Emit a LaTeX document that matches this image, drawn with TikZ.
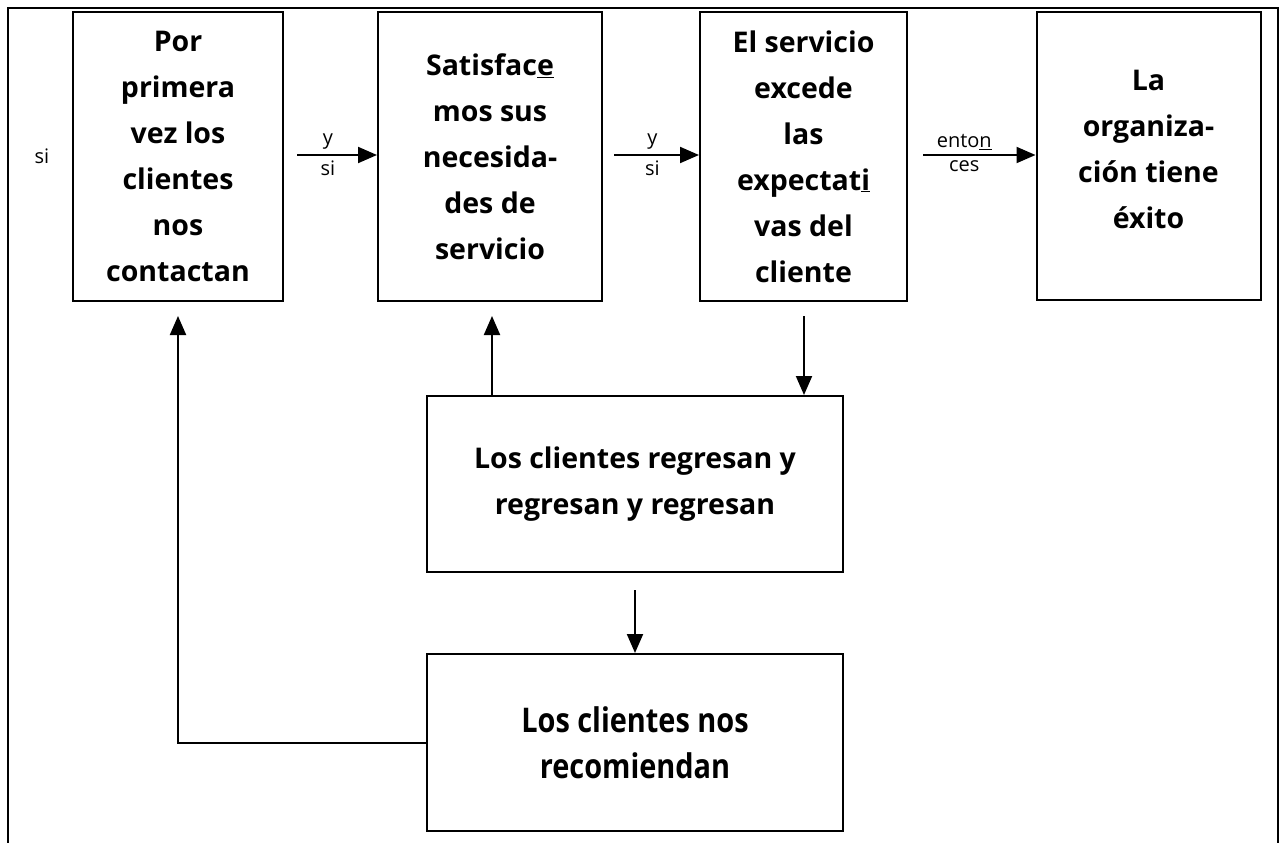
\documentclass[tikz,border=0pt]{standalone}
\usepackage{fontspec}
\setmainfont{Open Sans}
\newfontfamily\narrowfont[FakeStretch=0.85]{Open Sans}
\usetikzlibrary{arrows.meta}
\tikzset{
  box/.style={draw, line width=2pt, rectangle, align=center, inner sep=0pt,
    font=\fontsize{28.5}{46}\selectfont\bfseries},
  arr/.style={line width=2pt, -{Triangle[length=19pt,width=16pt]}},
  lbl/.style={font=\fontsize{20}{22}\selectfont, inner sep=4.5pt},
}
\begin{document}
\begin{tikzpicture}[x=1pt,y=-1pt]
\useasboundingbox (0,0) rectangle (1282,843);
% outer frame (open at bottom)
\draw[line width=2pt] (8,843) -- (8,8) -- (1278,8) -- (1278,843);

\node[box, minimum width=210pt, minimum height=289pt] (b1) at (178,156.5)
  {Por\\primera\\vez los\\clientes\\nos\\contactan};
\node[box, minimum width=224pt, minimum height=289pt] (b2) at (490,156.5)
  {Satisfac\underline{e}\\mos sus\\necesida-\\des de\\servicio};
\node[box, minimum width=207pt, minimum height=289pt] (b3) at (803.5,156.5)
  {El servicio\\excede\\las\\expectat\underline{i}\\vas del\\cliente};
\node[box, minimum width=224pt, minimum height=288pt, text depth=14pt] (b4) at (1148.5,156)
  {La\\organiza-\\ción tiene\\éxito};
\node[box, minimum width=416pt, minimum height=176pt] (b5) at (635,484)
  {Los clientes regresan y\\regresan y regresan};
\node[box, minimum width=416pt, minimum height=177pt, font=\fontsize{34}{46}\selectfont\narrowfont\bfseries] (b6) at (635,742.5)
  {Los clientes nos\\recomiendan};

\node[lbl] (si0) at (42,156) {si};

\coordinate (s1) at (297,155);
\coordinate (s2) at (614,155);
\coordinate (s3) at (923,155);
\coordinate (t2) at (492,316);
\coordinate (d3) at (804,316);
\coordinate (d5) at (635,590);
\coordinate (t1) at (178,316);

\draw[arr] (s1) -- node[lbl, above, xshift=-9pt]{y} node[lbl, below, xshift=-9pt]{si} (s1 -| b2.west);
\draw[arr] (s2) -- node[lbl, above, xshift=-4pt]{y} node[lbl, below, xshift=-4pt]{si} (s2 -| b3.west);
\draw[arr] (s3) -- node[lbl, above, xshift=-15pt]{ento\underline{n}} node[lbl, below, xshift=-15pt]{ces} (s3 -| b4.west);

\draw[arr] (t2 |- b5.north) -- (t2);
\draw[arr] (d3) -- (d3 |- b5.north);
\draw[arr] (d5) -- (b6.north);
\draw[arr] (b6.west) -| (t1);
\end{tikzpicture}
\end{document}
